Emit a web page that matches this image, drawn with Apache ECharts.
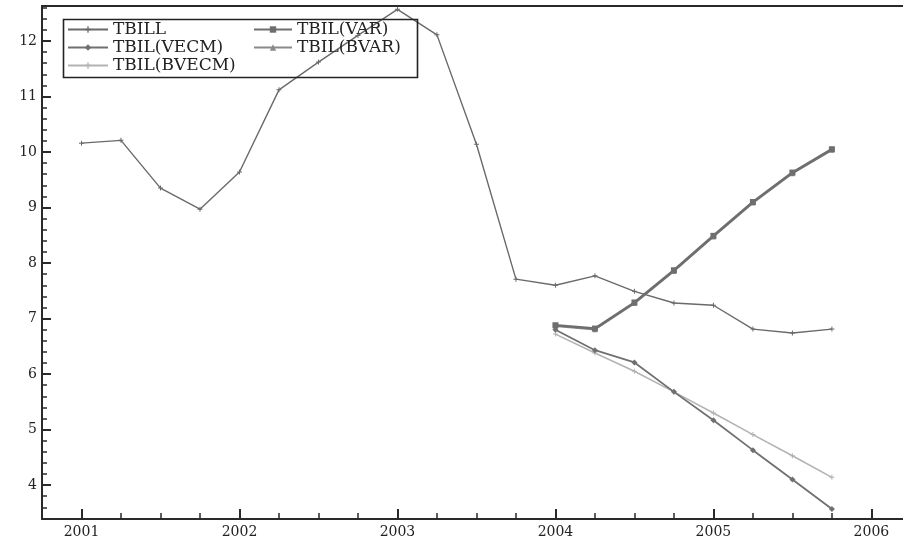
<!DOCTYPE html>
<html>
<head>
<meta charset="utf-8">
<script src="https://cdn.jsdelivr.net/npm/echarts@6/dist/echarts.min.js"></script>
<style>
  html, body { margin: 0; padding: 0; background: #fff; }
  #chart { width: 903px; height: 542px; }
</style>
</head>
<body>
<div id="chart"></div>
<script>
// Quarterly observation dates (decimal years)
const tbillDates = [2001.00, 2001.25, 2001.50, 2001.75, 2002.00, 2002.25, 2002.50, 2002.75,
                    2003.00, 2003.25, 2003.50, 2003.75, 2004.00, 2004.25, 2004.50, 2004.75,
                    2005.00, 2005.25, 2005.50, 2005.75];
const tbill = [10.16, 10.21, 9.35, 8.97, 9.64, 11.12, 11.62, 12.10,
               12.57, 12.11, 10.14, 7.71, 7.60, 7.77, 7.49, 7.28,
               7.24, 6.81, 6.74, 6.81];

// Forecast horizon
const forecastDates = [2004.00, 2004.25, 2004.50, 2004.75, 2005.00, 2005.25, 2005.50, 2005.75];
const tbilVAR   = [6.88, 6.82, 7.29, 7.87, 8.49, 9.10, 9.63, 10.05];
const tbilBVAR  = [6.86, 6.80, 7.27, 7.85, 8.47, 9.08, 9.61, 10.03];
const tbilVECM  = [6.80, 6.43, 6.21, 5.68, 5.17, 4.63, 4.10, 3.57];
const tbilBVECM = [6.72, 6.38, 6.05, 5.68, 5.30, 4.91, 4.53, 4.14];

// Axis tick labels
const xTickLabels = [2001, 2002, 2003, 2004, 2005, 2006];
const yTickLabels = [4, 5, 6, 7, 8, 9, 10, 11, 12];

const X_MIN = 2000.75, X_MAX = 2006.2;
const Y_MIN = 3.39, Y_MAX = 12.63;

// minor tick positions: quarters on x, fifths on y
const xMinor = [];
for (let i = 0; X_MIN + i * 0.25 <= X_MAX + 1e-9; i++) xMinor.push(+(X_MIN + i * 0.25).toFixed(2));
const yMinor = [];
for (let i = 0; 3.4 + i * 0.2 <= Y_MAX + 1e-9; i++) yMinor.push(+(3.4 + i * 0.2).toFixed(2));

const pair = (xs, ys) => xs.map((x, i) => [x, ys[i]]);

const plusPath = 'path://M4,0h2v4h4v2h-4v4h-2v-4h-4v-2h4z';
const serif = '"DejaVu Serif", "Liberation Serif", serif';
const ink = '#2a2a2a';

const legendText = { fontFamily: serif, fontSize: 17, color: '#222', lineHeight: 16.8 };

const chart = echarts.init(document.getElementById('chart'), null, { renderer: 'canvas' });

chart.setOption({
  backgroundColor: '#ffffff',
  animation: false,
  grid: { left: 42, top: 6, right: 0, bottom: 23, show: false },
  legend: [
    {
      data: ['TBILL', 'TBIL(VECM)', 'TBIL(BVECM)'],
      orient: 'vertical', left: 67, top: 21, padding: 0, itemGap: 1,
      itemWidth: 40, itemHeight: 8, textStyle: legendText
    },
    {
      data: ['TBIL(VAR)', 'TBIL(BVAR)'],
      orient: 'vertical', left: 253, top: 21, padding: 0, itemGap: 1,
      itemWidth: 38, itemHeight: 8, textStyle: legendText
    }
  ],
  graphic: [{
    type: 'rect', left: 61, top: 17, z: 50,
    shape: { width: 354, height: 58 },
    style: { fill: 'none', stroke: '#222', lineWidth: 1.6 }
  }],
  xAxis: [
    {
      type: 'value', min: X_MIN, max: X_MAX, position: 'bottom',
      axisLine: { show: true, lineStyle: { color: ink, width: 2 } },
      axisTick: { show: true, inside: true, length: 10, customValues: xTickLabels,
                  lineStyle: { color: ink, width: 2 } },
      axisLabel: { customValues: xTickLabels, formatter: v => String(Math.round(v)),
                   fontFamily: serif, fontSize: 14, color: '#222', margin: 6 },
      splitLine: { show: false }
    },
    {
      type: 'value', min: X_MIN, max: X_MAX, position: 'bottom',
      axisLine: { show: false },
      axisTick: { show: true, inside: true, length: 6, customValues: xMinor,
                  lineStyle: { color: ink, width: 1.5 } },
      axisLabel: { show: false },
      splitLine: { show: false }
    },
    {
      // top frame line
      type: 'value', min: X_MIN, max: X_MAX, position: 'top',
      axisLine: { show: true, lineStyle: { color: ink, width: 2 } },
      axisTick: { show: false },
      axisLabel: { show: false },
      splitLine: { show: false }
    }
  ],
  yAxis: [
    {
      type: 'value', min: Y_MIN, max: Y_MAX, position: 'left',
      axisLine: { show: true, lineStyle: { color: ink, width: 2 } },
      axisTick: { show: true, inside: true, length: 9, customValues: yTickLabels,
                  lineStyle: { color: ink, width: 2 } },
      axisLabel: { customValues: yTickLabels, formatter: v => String(Math.round(v)),
                   fontFamily: serif, fontSize: 14, color: '#222', margin: 5 },
      splitLine: { show: false }
    },
    {
      type: 'value', min: Y_MIN, max: Y_MAX, position: 'left',
      axisLine: { show: false },
      axisTick: { show: true, inside: true, length: 5, customValues: yMinor,
                  lineStyle: { color: ink, width: 1.5 } },
      axisLabel: { show: false },
      splitLine: { show: false }
    }
  ],
  series: [
    {
      name: 'TBILL', type: 'line', data: pair(tbillDates, tbill),
      symbol: plusPath, symbolSize: 5, showSymbol: true,
      lineStyle: { color: '#6a6a6a', width: 1.4 },
      itemStyle: { color: '#6a6a6a' }, z: 3
    },
    {
      name: 'TBIL(VAR)', type: 'line', data: pair(forecastDates, tbilVAR),
      symbol: 'rect', symbolSize: 6,
      lineStyle: { color: '#6e6e6e', width: 2.6 },
      itemStyle: { color: '#6e6e6e' }, z: 4
    },
    {
      name: 'TBIL(VECM)', type: 'line', data: pair(forecastDates, tbilVECM),
      symbol: 'diamond', symbolSize: 6,
      lineStyle: { color: '#707070', width: 1.8 },
      itemStyle: { color: '#707070' }, z: 4
    },
    {
      name: 'TBIL(BVAR)', type: 'line', data: pair(forecastDates, tbilBVAR),
      symbol: 'triangle', symbolSize: 5,
      lineStyle: { color: '#8a8a8a', width: 1.5 },
      itemStyle: { color: '#8a8a8a' }, z: 3
    },
    {
      name: 'TBIL(BVECM)', type: 'line', data: pair(forecastDates, tbilBVECM),
      symbol: plusPath, symbolSize: 5,
      lineStyle: { color: '#b3b3b3', width: 1.6 },
      itemStyle: { color: '#b3b3b3' }, z: 2
    }
  ]
});
</script>
</body>
</html>
